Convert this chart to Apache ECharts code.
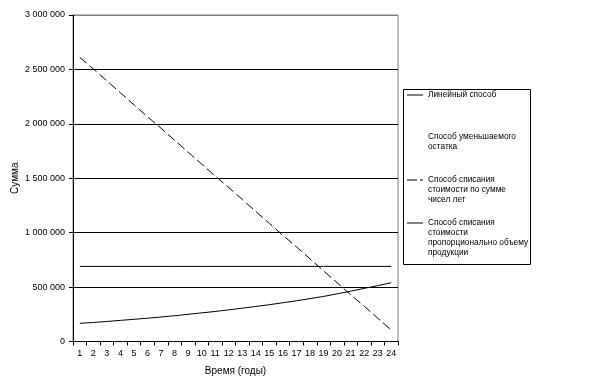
<!DOCTYPE html>
<html>
<head>
<meta charset="utf-8">
<script src="https://cdn.jsdelivr.net/npm/echarts@6/dist/echarts.min.js"></script>
<style>
html,body{margin:0;padding:0;background:#fff;}
#chart{width:613px;height:386px;}
</style>
</head>
<body>
<div id="chart"></div>
<script>
var years = ['1','2','3','4','5','6','7','8','9','10','11','12','13','14','15','16','17','18','19','20','21','22','23','24'];
var seriesNames = [
  'Линейный способ',
  'Способ уменьшаемого остатка',
  'Способ списания стоимости по сумме чисел лет',
  'Способ списания стоимости пропорционально объему продукции'
];
var legendLabels = [
  'Линейный способ',
  'Способ уменьшаемого\nостатка',
  'Способ списания\nстоимости по сумме\nчисел лет',
  'Способ списания\nстоимости\nпропорционально объему\nпродукции'
];
var linearValues = [690000,690000,690000,690000,690000,690000,690000,690000,690000,690000,690000,690000,690000,690000,690000,690000,690000,690000,690000,690000,690000,690000,690000,690000];
var decliningValues = [];
var sumYearsValues = [2610000,2505000,2395000,2285000,2175000,2065000,1960000,1850000,1740000,1630000,1520000,1415000,1305000,1195000,1085000,975000,870000,760000,650000,540000,430000,325000,215000,105000];
var productionValues = [167000,175000,184000,194000,204000,214000,225000,237000,250000,263000,276000,291000,306000,322000,338000,356000,374000,394000,414000,438000,462000,488000,513000,540000];

var FONT = '"Liberation Sans", Arial, sans-serif';
var chart = echarts.init(document.getElementById('chart'), null, {renderer: 'canvas'});

function fmt(v) {
  return String(v).replace(/\B(?=(\d{3})+(?!\d))/g, ' ');
}

var SOLID_ICON = 'path://M0,0h16v1h-16z';
var DASH_ICON = 'path://M0,0h10v1h-10z M13,0h3v1h-3z';
var legendIcons = [SOLID_ICON, 'none', DASH_ICON, SOLID_ICON];
var legendCenters = [95, 137, 180, 223];
var lineCounts = [1, 2, 3, 4];
var LH = 10;
var legends = seriesNames.map(function (name, i) {
  var n = lineCounts[i];
  var lead = '';
  for (var k = 1; k < n; k++) { lead += '\n'; }
  return {
    show: true,
    left: 407,
    top: legendCenters[i] - (2 * n - 1) * LH / 2,
    orient: 'vertical',
    padding: 0,
    itemWidth: 16,
    itemHeight: 1,
    selectedMode: false,
    formatter: function () { return lead + legendLabels[i]; },
    textStyle: {
      fontFamily: FONT,
      fontSize: 8.3,
      color: '#000',
      lineHeight: LH
    },
    data: [{name: name, icon: legendIcons[i], itemStyle: {color: '#000', borderWidth: 0}}]
  };
});

chart.setOption({
  animation: false,
  backgroundColor: '#fff',
  grid: {
    left: 73, top: 15, width: 325, height: 326.5,
    outerBoundsMode: 'none',
    containLabel: false,
    show: true, borderColor: '#808080', borderWidth: 1, backgroundColor: 'transparent'
  },
  legend: legends,
  graphic: [{
    type: 'rect',
    shape: {x: 403.5, y: 89.5, width: 127, height: 175},
    style: {fill: 'none', stroke: '#000', lineWidth: 1},
    z: 1
  }],
  xAxis: {
    type: 'category',
    data: years,
    boundaryGap: true,
    name: 'Время (годы)',
    nameLocation: 'middle',
    nameGap: 25,
    nameTextStyle: {fontFamily: FONT, fontSize: 10, color: '#000'},
    axisLine: {lineStyle: {color: '#000', width: 1}},
    axisTick: {show: true, length: 4, alignWithLabel: false, lineStyle: {color: '#000'}},
    axisLabel: {fontFamily: FONT, fontSize: 9, color: '#000', margin: 8, interval: 0},
    splitLine: {show: false}
  },
  yAxis: {
    type: 'value',
    min: 0, max: 3000000, interval: 500000,
    name: 'Сумма',
    nameLocation: 'middle',
    nameGap: 53,
    nameMoveOverlap: false,
    nameTextStyle: {fontFamily: FONT, fontSize: 10, color: '#000'},
    axisLine: {show: true, lineStyle: {color: '#000', width: 1}},
    axisTick: {show: true, length: 4, lineStyle: {color: '#000'}},
    axisLabel: {fontFamily: FONT, fontSize: 9, color: '#000', margin: 8, formatter: fmt},
    splitLine: {show: true, lineStyle: {color: ['#000','#000','#000','#000','#000','#000','#808080'], width: 1}}
  },
  series: [
    {name: seriesNames[0], type: 'line', data: linearValues, symbol: 'none', lineStyle: {color: '#000', width: 1}, itemStyle: {color: '#000'}},
    {name: seriesNames[1], type: 'line', data: decliningValues, symbol: 'none', lineStyle: {color: '#fff', width: 0}, itemStyle: {color: '#fff'}},
    {name: seriesNames[2], type: 'line', data: sumYearsValues, symbol: 'none', lineStyle: {color: '#000', width: 1, type: [9, 4]}, itemStyle: {color: '#000'}},
    {name: seriesNames[3], type: 'line', data: productionValues, symbol: 'none', lineStyle: {color: '#000', width: 1}, itemStyle: {color: '#000'}}
  ]
});
</script>
</body>
</html>
